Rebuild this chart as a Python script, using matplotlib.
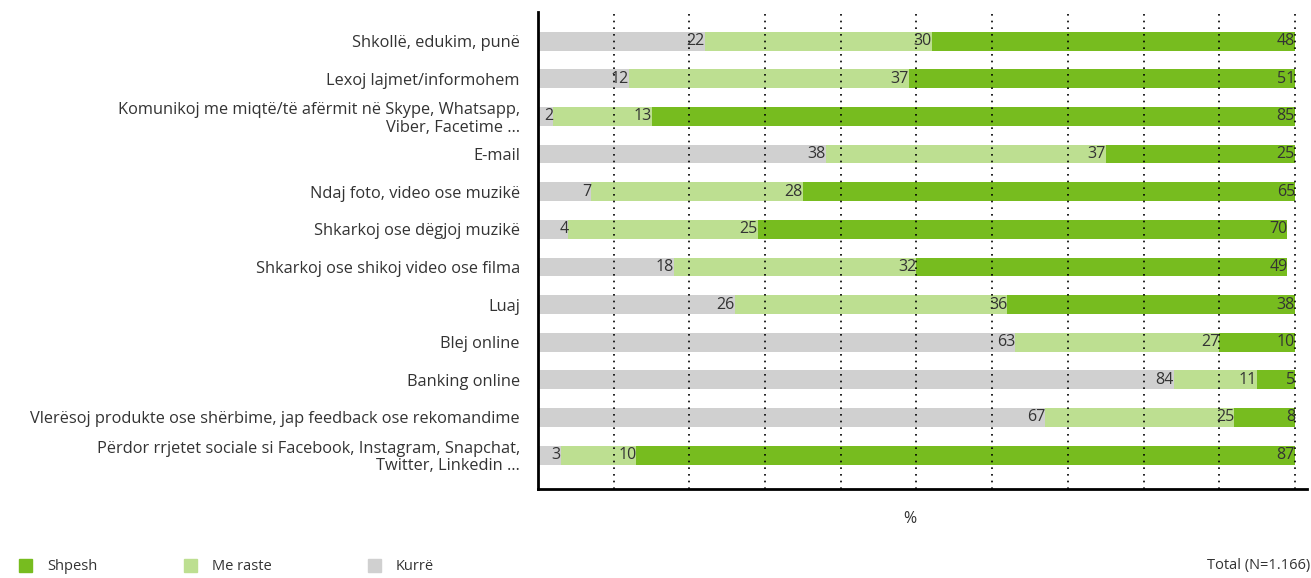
import matplotlib
matplotlib.use("Agg")
import matplotlib.pyplot as plt
import numpy as np

plt.rcParams["font.family"] = ["Open Sans", "DejaVu Sans"]

categories = [
    "Shkollë, edukim, punë",
    "Lexoj lajmet/informohem",
    "Komunikoj me miqtë/të afërmit në Skype, Whatsapp,\nViber, Facetime …",
    "E-mail",
    "Ndaj foto, video ose muzikë",
    "Shkarkoj ose dëgjoj muzikë",
    "Shkarkoj ose shikoj video ose filma",
    "Luaj",
    "Blej online",
    "Banking online",
    "Vlerësoj produkte ose shërbime, jap feedback ose rekomandime",
    "Përdor rrjetet sociale si Facebook, Instagram, Snapchat,\nTwitter, Linkedin …",
]
kurre = [22, 12, 2, 38, 7, 4, 18, 26, 63, 84, 67, 3]
me_raste = [30, 37, 13, 37, 28, 25, 32, 36, 27, 11, 25, 10]
shpesh = [48, 51, 85, 25, 65, 70, 49, 38, 10, 5, 8, 87]

C_SHPESH = "#77BC1F"
C_MERASTE = "#BDDF91"
C_KURRE = "#D0D0D0"
C_TEXT = "#333333"

fig = plt.figure(figsize=(13.11, 5.78), dpi=100)
ax = fig.add_axes([0.4104, 0.154, 0.5866, 0.825])

y = np.arange(len(categories))
series = [(kurre, C_KURRE), (me_raste, C_MERASTE), (shpesh, C_SHPESH)]
left = np.zeros(len(categories))
for vals, col in series:
    vals = np.array(vals, dtype=float)
    ax.barh(y, vals, left=left, height=0.5, color=col, zorder=2)
    for yi, l, v in zip(y, left, vals):
        ax.text(l + v, yi, f"{int(v)}", ha="right", va="center",
                fontsize=11.5, color=C_TEXT, zorder=4)
    left += vals

for gx in range(10, 101, 10):
    ax.axvline(gx, color="black", linestyle=(0, (1, 3)), linewidth=1.2, zorder=3)

ax.set_xlim(0, 101.6)
ax.set_ylim(11.9, -0.77)
ax.set_yticks(y)
ax.set_yticklabels(categories, fontsize=11.8, color=C_TEXT, linespacing=1.1)
ax.set_xticks([])
ax.tick_params(axis="y", length=0, pad=13)
for s in ["top", "right"]:
    ax.spines[s].set_visible(False)
ax.spines["left"].set_linewidth(2)
ax.spines["bottom"].set_linewidth(2)

fig.text(910 / 1311, 1 - 519 / 578, "%", ha="center", va="center",
         fontsize=11.5, color=C_TEXT)

legend_items = [("Shpesh", C_SHPESH, 19), ("Me raste", C_MERASTE, 184), ("Kurrë", C_KURRE, 368)]
for lab, col, px in legend_items:
    fig.patches.append(plt.Rectangle((px / 1311, 1 - 572 / 578), 13 / 1311, 13 / 578,
                                     transform=fig.transFigure, color=col))
    fig.text((px + 28) / 1311, 1 - 566 / 578, lab, ha="left", va="center",
             fontsize=10.5, color=C_TEXT)
fig.text(1310 / 1311, 1 - 566 / 578, "Total (N=1.166)", ha="right", va="center",
         fontsize=10.5, color=C_TEXT)

fig.savefig("out.png", dpi=100, facecolor="white")
